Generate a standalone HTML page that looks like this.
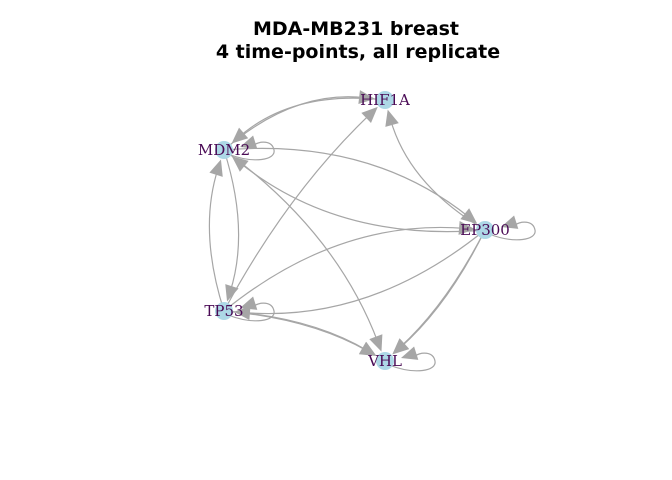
<!DOCTYPE html>
<html><head><meta charset="utf-8"><style>
body{margin:0;background:#fff}
svg{display:block}
</style></head><body>
<svg id="chart" width="672" height="480" viewBox="0 0 672 480" xmlns="http://www.w3.org/2000/svg">
<text x="356" y="35" text-anchor="middle" font-family="DejaVu Sans, sans-serif" font-weight="bold" font-size="19">MDA-MB231 breast</text>
<text x="358" y="58" text-anchor="middle" font-family="DejaVu Sans, sans-serif" font-weight="bold" font-size="19">4 time-points, all replicate</text>
<g id="edges"></g><g id="nodes"></g>
</svg>
<script>
const nodeNames = ["HIF1A","MDM2","EP300","TP53","VHL"];
const nodeX = [385,224,485,224,385];
const nodeY = [100,150,230,311,361];
const edgeFrom = ["MDM2","HIF1A","TP53","EP300","MDM2","EP300","EP300","TP53","MDM2","TP53","MDM2","TP53","TP53","EP300","EP300"];
const edgeTo   = ["HIF1A","MDM2","HIF1A","HIF1A","EP300","MDM2","TP53","EP300","TP53","MDM2","VHL","VHL","VHL","VHL","VHL"];
const edgeCurve= [-0.22,0.22,-0.08,-0.2,-0.2,-0.2,-0.2,-0.2,-0.16,-0.16,-0.15,-0.12,-0.11,-0.1,-0.09];
const loopNodes = ["MDM2","EP300","TP53","VHL"];
const NS="http://www.w3.org/2000/svg";
const eg=document.getElementById('edges'), ng=document.getElementById('nodes');
function idx(n){return nodeNames.indexOf(n);}
function arrow(tx,ty,ux,uy,name){
  const L=16,W=7;
  const bx=tx-ux*L,by=ty-uy*L;
  const p=document.createElementNS(NS,'polygon');
  p.setAttribute('points',`${tx},${ty} ${bx-uy*W},${by+ux*W} ${bx+uy*W},${by-ux*W}`);
  p.setAttribute('fill','#a6a6a6');
  
  
  eg.appendChild(p);
}
edgeFrom.forEach((f,i)=>{
  const a=idx(f),b=idx(edgeTo[i]);
  const x1=nodeX[a],y1=nodeY[a],x2=nodeX[b],y2=nodeY[b];
  const dx=x2-x1,dy=y2-y1;
  const c=edgeCurve[i];
  const cx=(x1+x2)/2+c*(-dy), cy=(y1+y2)/2+c*dx;
  let ux=x2-cx,uy=y2-cy; const ul=Math.hypot(ux,uy); ux/=ul;uy/=ul;
  const tx=x2-ux*10,ty=y2-uy*10;
  const p=document.createElementNS(NS,'path');
  p.setAttribute('d',`M${x1},${y1} Q${cx},${cy} ${tx-ux*10},${ty-uy*10}`);
  p.setAttribute('fill','none');p.setAttribute('stroke','#a6a6a6');p.setAttribute('stroke-width','1.2');
  
  
  eg.appendChild(p);
  arrow(tx,ty,ux,uy,'arrowhead-'+f.toLowerCase()+'-to-'+edgeTo[i].toLowerCase());
});
loopNodes.forEach(n=>{
  const i=idx(n),x=nodeX[i],y=nodeY[i];
  const p=document.createElementNS(NS,'path');
  p.setAttribute('d',`M${x+4},${y+4} C${x+30},${y+14} ${x+52},${y+10} ${x+50},${y} C${x+48},${y-10} ${x+36},${y-9} ${x+30},${y-5}`);
  p.setAttribute('fill','none');p.setAttribute('stroke','#a6a6a6');p.setAttribute('stroke-width','1.2');
  
  
  eg.appendChild(p);
  arrow(x+16,y-3,-0.95,0.3,'self-loop-arrow-'+n.toLowerCase());
});
nodeNames.forEach((n,i)=>{
  const c=document.createElementNS(NS,'circle');
  c.setAttribute('cx',nodeX[i]);c.setAttribute('cy',nodeY[i]);c.setAttribute('r',9);c.setAttribute('fill','#add8e6');
  
  
  ng.appendChild(c);
  const t=document.createElementNS(NS,'text');
  t.setAttribute('x',nodeX[i]);t.setAttribute('y',nodeY[i]+5);t.setAttribute('text-anchor','middle');
  t.setAttribute('font-family','DejaVu Serif, serif');t.setAttribute('font-size','15');t.setAttribute('fill','#4a0a55');
  t.textContent=n;
  
  
  ng.appendChild(t);
});
</script>
</body></html>
